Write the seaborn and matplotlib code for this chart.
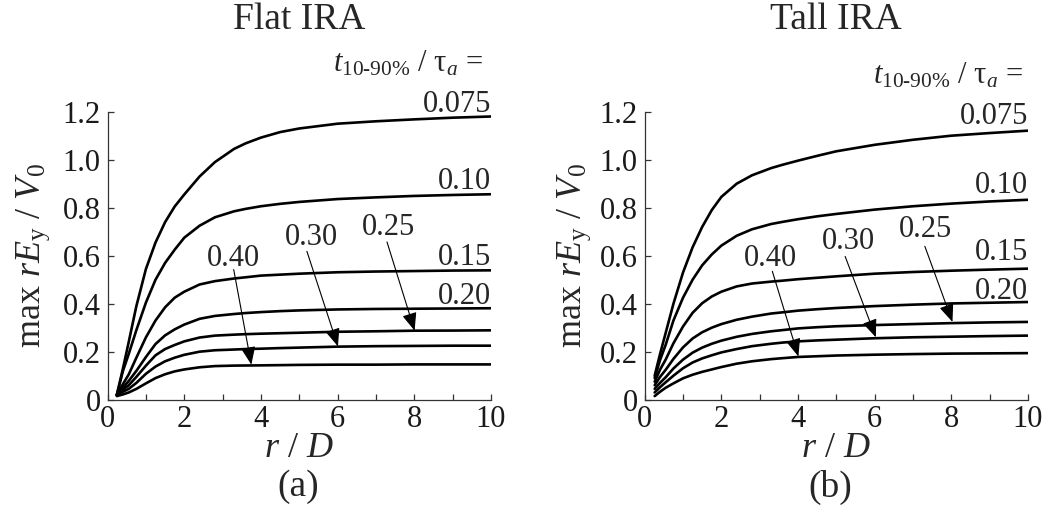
import matplotlib
matplotlib.use("Agg")
import matplotlib.pyplot as plt
from matplotlib.ticker import MultipleLocator, FixedLocator
import pandas as pd
import seaborn as sns

# ---------------- data ----------------
tau_labels = ["0.075", "0.10", "0.15", "0.20", "0.25", "0.30", "0.40"]

r_flat = [0.24, 0.4, 0.55, 0.75, 1.0, 1.25, 1.5, 1.75, 2.0, 2.4, 2.8, 3.3, 3.6, 4, 4.5, 5, 6, 7, 8, 9, 10]
flat_0075 = [0.02, 0.13, 0.24, 0.39, 0.545, 0.655, 0.74, 0.805, 0.855, 0.93, 0.99, 1.045, 1.068, 1.092, 1.115, 1.13, 1.15, 1.16, 1.168, 1.175, 1.18]
flat_010 = [0.02, 0.12, 0.19, 0.29, 0.405, 0.50, 0.57, 0.625, 0.675, 0.725, 0.76, 0.785, 0.795, 0.806, 0.816, 0.824, 0.836, 0.843, 0.849, 0.853, 0.856]
flat_015 = [0.02, 0.065, 0.105, 0.175, 0.26, 0.33, 0.385, 0.425, 0.45, 0.48, 0.494, 0.505, 0.51, 0.517, 0.521, 0.525, 0.531, 0.534, 0.536, 0.538, 0.539]
flat_020 = [0.02, 0.05, 0.078, 0.12, 0.178, 0.232, 0.268, 0.293, 0.313, 0.337, 0.349, 0.357, 0.361, 0.365, 0.369, 0.372, 0.376, 0.378, 0.379, 0.38, 0.381]
flat_025 = [0.02, 0.042, 0.06, 0.095, 0.142, 0.185, 0.211, 0.228, 0.243, 0.259, 0.267, 0.271, 0.273, 0.275, 0.277, 0.279, 0.283, 0.285, 0.2875, 0.288, 0.289]
flat_030 = [0.02, 0.033, 0.045, 0.07, 0.108, 0.138, 0.16, 0.175, 0.187, 0.20, 0.206, 0.209, 0.211, 0.2125, 0.215, 0.217, 0.221, 0.223, 0.224, 0.225, 0.225]
flat_040 = [0.015, 0.022, 0.03, 0.045, 0.068, 0.09, 0.106, 0.118, 0.126, 0.135, 0.14, 0.142, 0.1425, 0.143, 0.144, 0.145, 0.146, 0.146, 0.147, 0.147, 0.147]

r_tall = [0.26, 0.4, 0.55, 0.75, 1.0, 1.25, 1.5, 1.75, 2.0, 2.4, 2.8, 3.3, 3.6, 4, 4.5, 5, 6, 7, 8, 9, 10]
tall_0075 = [0.10, 0.19, 0.28, 0.40, 0.53, 0.635, 0.72, 0.79, 0.845, 0.90, 0.935, 0.965, 0.979, 0.996, 1.016, 1.035, 1.062, 1.083, 1.10, 1.111, 1.121]
tall_010 = [0.09, 0.165, 0.23, 0.33, 0.425, 0.50, 0.56, 0.605, 0.642, 0.683, 0.71, 0.732, 0.741, 0.752, 0.764, 0.774, 0.792, 0.806, 0.817, 0.826, 0.833]
tall_015 = [0.075, 0.125, 0.168, 0.235, 0.305, 0.362, 0.402, 0.43, 0.45, 0.472, 0.484, 0.492, 0.496, 0.502, 0.508, 0.514, 0.525, 0.532, 0.5375, 0.542, 0.546]
tall_020 = [0.06, 0.095, 0.125, 0.17, 0.218, 0.255, 0.281, 0.30, 0.315, 0.333, 0.346, 0.359, 0.364, 0.371, 0.377, 0.382, 0.39, 0.396, 0.401, 0.404, 0.407]
tall_025 = [0.045, 0.07, 0.094, 0.13, 0.167, 0.196, 0.217, 0.233, 0.246, 0.262, 0.274, 0.285, 0.29, 0.297, 0.302, 0.306, 0.311, 0.315, 0.319, 0.322, 0.324]
tall_030 = [0.03, 0.052, 0.073, 0.10, 0.131, 0.155, 0.172, 0.185, 0.197, 0.211, 0.223, 0.233, 0.238, 0.243, 0.247, 0.25, 0.256, 0.26, 0.2625, 0.265, 0.267]
tall_040 = [0.015, 0.033, 0.05, 0.068, 0.089, 0.104, 0.116, 0.126, 0.136, 0.15, 0.16, 0.169, 0.173, 0.178, 0.181, 0.184, 0.1875, 0.19, 0.192, 0.193, 0.194]

panel_titles = ["Flat IRA", "Tall IRA"]
panel_tags = ["(a)", "(b)"]
x_ticks = [0, 2, 4, 6, 8, 10]
y_ticks = [0, 0.2, 0.4, 0.6, 0.8, 1.0, 1.2]
y_tick_labels = ["0", "0.2", "0.4", "0.6", "0.8", "1.0", "1.2"]

flat_series = [flat_0075, flat_010, flat_015, flat_020, flat_025, flat_030, flat_040]
tall_series = [tall_0075, tall_010, tall_015, tall_020, tall_025, tall_030, tall_040]


def long_frame(r, series):
    rows = []
    for lab, vals in zip(tau_labels, series):
        for rr, vv in zip(r, vals):
            rows.append({"r": rr, "v": vv, "tau": lab})
    return pd.DataFrame(rows)


frames = [long_frame(r_flat, flat_series), long_frame(r_tall, tall_series)]

# ---------------- style ----------------
sns.set_style("ticks")
plt.rcParams["font.family"] = ["Liberation Serif", "DejaVu Serif"]
plt.rcParams["mathtext.fontset"] = "custom"
plt.rcParams["mathtext.rm"] = "Liberation Serif"
plt.rcParams["mathtext.it"] = "Liberation Serif:italic"
plt.rcParams["mathtext.bf"] = "Liberation Serif:bold"

AX_COL = "#333333"
fig = plt.figure(figsize=(10.5, 5.14), dpi=100)
ax_pos = [[0.1025, 0.2224, 0.365, 0.5603], [0.6140, 0.2224, 0.365, 0.5603]]

# end-label baselines and arrow geometry for each panel
end_label_y = [
    {"0.075": 1.198, "0.10": 0.878, "0.15": 0.5625, "0.20": 0.399},
    {"0.075": 1.149, "0.10": 0.861, "0.15": 0.583, "0.20": 0.42},
]
arrow_specs = [
    [("0.40", (3.29, 0.59), (3.29, 0.542), (3.75, 0.146)),
     ("0.30", (5.32, 0.674), (5.2, 0.618), (6.01, 0.222)),
     ("0.25", (7.33, 0.718), (7.29, 0.657), (8.01, 0.2875))],
    [("0.40", (3.28, 0.589), (3.33, 0.535), (4.01, 0.18)),
     ("0.30", (5.31, 0.66), (5.23, 0.597), (6.03, 0.26)),
     ("0.25", (7.33, 0.708), (7.31, 0.639), (8.03, 0.324))],
]
header_pos = [(9.8, 1.367), (9.88, 1.318)]
ylabel_x = [-0.194, -0.183]
tag_x = [0.4975, 0.485]

for i in range(2):
    ax = fig.add_axes(ax_pos[i])
    sns.lineplot(data=frames[i], x="r", y="v", hue="tau",
                 palette={t: "black" for t in tau_labels},
                 estimator=None, sort=False, legend=False,
                 linewidth=1.9, ax=ax)
    ax.set_xlim(0, 10)
    ax.set_ylim(0, 1.2)
    for s in ["top", "right"]:
        ax.spines[s].set_visible(False)
    for s in ["left", "bottom"]:
        ax.spines[s].set_color(AX_COL)
        ax.spines[s].set_linewidth(0.9)
    ax.xaxis.set_major_locator(FixedLocator(x_ticks))
    ax.xaxis.set_minor_locator(MultipleLocator(1))
    ax.set_xticklabels([str(t) for t in x_ticks])
    ax.set_yticks(y_ticks)
    ax.set_yticklabels(y_tick_labels)
    ax.tick_params(axis="both", which="both", direction="in", color=AX_COL,
                   width=0.9, length=4, labelsize=22, labelcolor="#1a1a1a")
    ax.tick_params(axis="x", which="major", pad=4)
    ax.tick_params(axis="y", which="major", pad=5)

    ax.set_xlabel(r"$r$ / $D$", fontsize=26)
    ax.xaxis.set_label_coords(0.5, -0.168)
    ax.xaxis.label.set_verticalalignment("center")
    ax.set_ylabel(r"max $rE_{\mathrm{y}}$ / $V_0$", fontsize=26)
    ax.yaxis.set_label_coords(ylabel_x[i], 0.5)
    ax.yaxis.label.set_verticalalignment("center")

    ax.text(5, 1.543, panel_titles[i], ha="center", va="baseline",
            fontsize=27, clip_on=False)
    ax.text(tag_x[i], -0.303, panel_tags[i], transform=ax.transAxes,
            ha="center", va="center", fontsize=27, clip_on=False)
    hx, hy = header_pos[i]
    ax.text(hx, hy, r"$t_{\mathrm{10}\text{-}\mathrm{90\%}}$ / τ$_a$ =",
            ha="right", va="baseline", fontsize=22, clip_on=False)

    for lab, yb in end_label_y[i].items():
        ax.text(10, yb, lab, ha="right", va="baseline", fontsize=22, clip_on=False)

    for lab, tpos, start, tip in arrow_specs[i]:
        ax.text(tpos[0], tpos[1], lab, ha="center", va="center", fontsize=22)
        ax.annotate("", xy=tip, xytext=start,
                    arrowprops=dict(arrowstyle="-|>,head_length=1.1,head_width=0.45",
                                    color="black", lw=0.8, shrinkA=0, shrinkB=0))

fig.savefig("out.png", dpi=100)
